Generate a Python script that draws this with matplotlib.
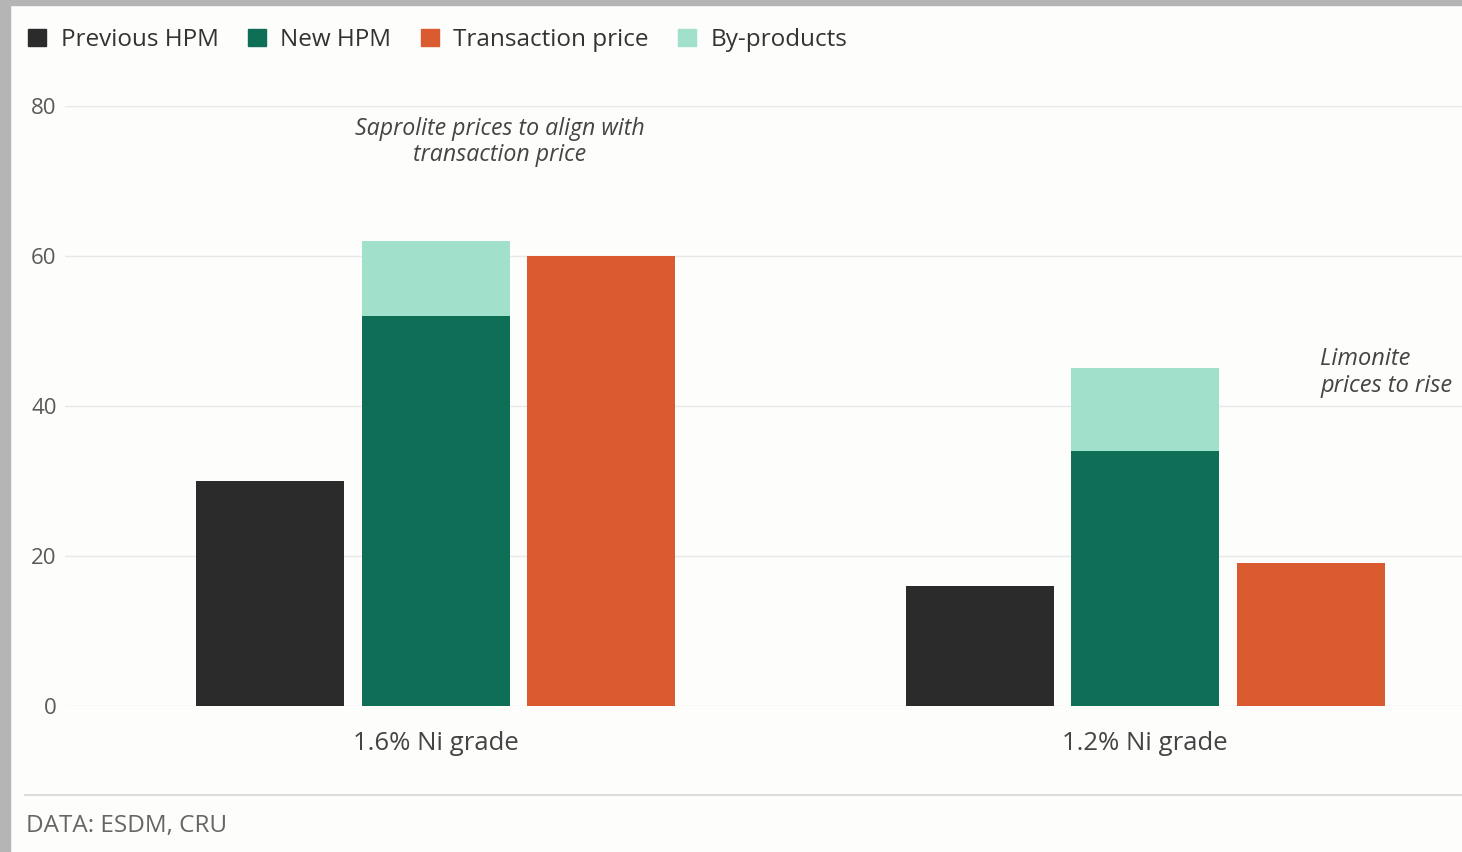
import matplotlib.pyplot as plt
import matplotlib.patches as mpatches
import numpy as np

plt.rcParams['font.family'] = ['Open Sans', 'DejaVu Sans']

# данні
categories = ["1.6% Ni grade", "1.2% Ni grade"]
previous_hpm = [30, 16]
new_hpm = [52, 34]
by_products = [10, 11]
transaction = [60, 19]
yticks = [0, 20, 40, 60, 80]

c_prev = "#2b2b2b"
c_new = "#0f6e56"
c_trans = "#d95b2f"
c_by = "#a1e0cb"
bg = "#fdfdfc"

fig = plt.figure(figsize=(14.62, 8.52), dpi=100, facecolor=bg)

# тінь скриншоту зліва та зверху
fig.patches.append(mpatches.Rectangle((0, 0), 0.007, 1, transform=fig.transFigure,
                                      color="#b5b5b5", zorder=0))
fig.patches.append(mpatches.Rectangle((0, 0.994), 1, 0.006, transform=fig.transFigure,
                                      color="#b5b5b5", zorder=0))

ax = fig.add_axes([0.0445, 0.1714, 0.9555, 0.7042])
ax.set_facecolor(bg)

x = np.arange(len(categories))
w = 0.2087
step = 0.2334

ax.bar(x - step, previous_hpm, w, color=c_prev, zorder=3)
ax.bar(x, new_hpm, w, color=c_new, zorder=3)
ax.bar(x, by_products, w, bottom=new_hpm, color=c_by, zorder=3)
ax.bar(x + step, transaction, w, color=c_trans, zorder=3)

ax.set_xlim(-0.523, 1.447)
ax.set_ylim(0, 80)
ax.set_yticks(yticks)
ax.grid(axis="y", color="#e8e8e8", linewidth=1, zorder=0)
for s in ax.spines.values():
    s.set_visible(False)
ax.tick_params(axis="y", length=0, pad=6, labelsize=16, labelcolor="#5a5a5a")
ax.tick_params(axis="x", length=0, pad=18, labelsize=18.5, labelcolor="#444444")
ax.set_xticks(x)
ax.set_xticklabels(categories)

ax.text(0.09, 75.2, "Saprolite prices to align with\ntransaction price", ha="center",
        va="center", style="italic", fontsize=16.7, color="#444444", linespacing=1.15)
ax.text(1.247, 44.5, "Limonite\nprices to rise", ha="left", va="center",
        style="italic", fontsize=17, color="#444444", linespacing=1.15)

handles = [mpatches.Patch(color=c, label=l) for c, l in
           [(c_prev, "Previous HPM"), (c_new, "New HPM"),
            (c_trans, "Transaction price"), (c_by, "By-products")]]
fig.legend(handles=handles, ncol=4, loc="center left", bbox_to_anchor=(0.004, 0.953),
           frameon=False, fontsize=17.5, handlelength=0.75, handleheight=0.75,
           handletextpad=0.6, columnspacing=1.2, labelcolor="#333333")

# нижня лінія та джерело
fig.add_artist(plt.Line2D([0.017, 1.0], [0.067, 0.067], transform=fig.transFigure,
                          color="#dddddd", linewidth=1.5))
fig.text(0.018, 0.03, "DATA: ESDM, CRU", fontsize=17.5, color="#666666", va="center")

fig.savefig("out.png", dpi=100, facecolor=bg)
